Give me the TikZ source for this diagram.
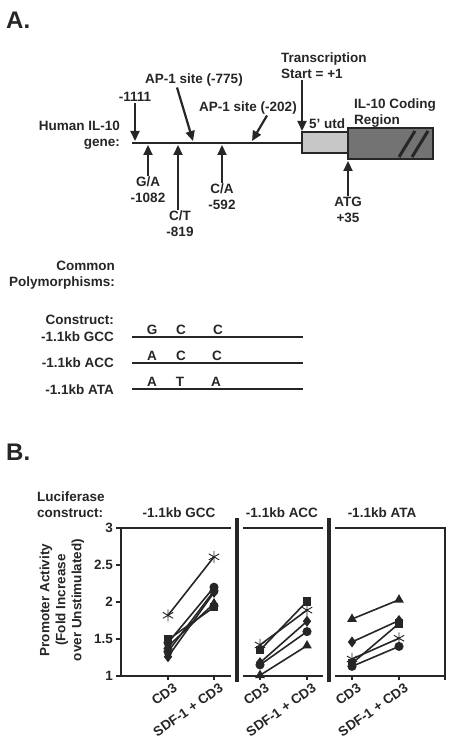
\documentclass[tikz,border=0pt]{standalone}
\usepackage{fontspec}
\setmainfont{Liberation Sans}
\usepackage{tikz}
\usetikzlibrary{arrows.meta, plotmarks}
\tikzset{>={Triangle[width=9pt,length=10pt]}}
\tikzset{
  txt/.style={font=\bfseries\fontsize{13.5}{16}\selectfont, text=black!85, inner sep=1pt},
  big/.style={font=\bfseries\fontsize{24}{26}\selectfont, text=black!85, inner sep=0pt},
  gene/.style={line width=2.6pt, black!85},
  tag/.style={->, line width=2.2pt, black!85},
  frame/.style={line width=1.5pt, black!85},
  divider/.style={line width=3.5pt, black!85},
  dataline/.style={line width=1.6pt, black!85, mark options={fill=black!85, solid}},
  xlab/.style={txt, rotate=35, anchor=north east}
}

\begin{document}
\begin{tikzpicture}[x=1pt, y=-1pt]
\useasboundingbox (0,0) rectangle (454,743);

% A. gene map
\node[big, anchor=west] (titA) at (6,20) {A.};
\node[txt, align=right, anchor=east] (hgene) at (121,135) {Human IL-10\\gene:};
\draw[gene] (132,143) coordinate (g0) -- (302,143) coordinate (g1);
\draw[black!85, line width=1.2pt, fill=black!22] (302,132) rectangle (348,153);
\draw[black!85, line width=1.2pt, fill=black!55] (348,128) rectangle (433,159);
\draw[line width=3pt, black!85] (399,157) -- (415,131);
\draw[line width=3pt, black!85] (412,157) -- (428,131);
\node[txt, anchor=west] (utr) at (308,124) {5' utd};
\node[txt, align=left, anchor=west] (cod) at (353,113) {IL-10 Coding\\Region};

% sites above the line
\node[txt] (l1111) at (135,97) {-1111};
\coordinate (p1111) at (135,141);
\draw[tag] (l1111) -- (p1111);
\node[txt] (lapa) at (194,80) {AP-1 site (-775)};
\coordinate (papa) at (193,141);
\draw[tag] ([xshift=-17pt]lapa.south) -- (papa);
\node[txt] (lapb) at (248,108) {AP-1 site (-202)};
\coordinate (papb) at (252,141);
\draw[tag] ([xshift=19pt]lapb.south) -- (papb);
\node[txt, align=left, anchor=west] (ltss) at (280,66) {Transcription\\Start = +1};
\coordinate (ptss) at (302,131);
\draw[tag] (ltss.south -| ptss) -- (ptss);

% polymorphisms below the line
\node[txt, align=center] (lga) at (148,190) {G/A\\-1082};
\coordinate (pga) at (148,145);
\draw[tag] (lga) -- (pga);
\node[txt, align=center] (lct) at (180,224) {C/T\\-819};
\coordinate (pct) at (178,145);
\draw[tag] (lct.north -| pct) -- (pct);
\node[txt, align=center] (lca) at (222,197) {C/A\\-592};
\coordinate (pca) at (222,145);
\draw[tag] (lca) -- (pca);
\node[txt, align=center] (latg) at (348,210) {ATG\\+35};
\coordinate (patg) at (348,161);
\draw[tag] (latg) -- (patg);

% constructs
\node[txt, align=right, anchor=east] (comm) at (116,275) {Common\\Polymorphisms:};
\node[txt, anchor=east] (cons) at (115,320) {Construct:};
\node[txt, anchor=east] (kgcc) at (115,337) {-1.1kb GCC};
\node[txt, anchor=east] (kacc) at (115,363) {-1.1kb ACC};
\node[txt, anchor=east] (kata) at (115,390) {-1.1kb ATA};
\draw[gene] (132,337) -- (303,337);
\draw[gene] (132,363) -- (303,363);
\draw[gene] (132,389) -- (303,389);
\node[txt] (ga1) at (152,330) {G};
\node[txt] (gc2) at (181,330) {C};
\node[txt] (gc3) at (218,330) {C};
\node[txt] (aa1) at (152,356) {A};
\node[txt] (ac2) at (181,356) {C};
\node[txt] (ac3) at (217,356) {C};
\node[txt] (ta1) at (152,382) {A};
\node[txt] (tt2) at (180,382) {T};
\node[txt] (ta3) at (216,382) {A};

% B. luciferase assay
\node[big, anchor=west] (titB) at (6,452) {B.};
\node[txt, align=left, anchor=west] (luc) at (36,505) {Luciferase\\construct:};
\node[txt] (hgcc) at (179,513) {-1.1kb GCC};
\node[txt] (hacc) at (282,513) {-1.1kb ACC};
\node[txt] (hata) at (382,513) {-1.1kb ATA};
\node[txt, align=center, rotate=90] (yax) at (62,600) {Promoter Activity\\(Fold Increase\\over Unstimulated)};

% frames
\draw[frame] (231,528) -- (121,528) -- (121,676) -- (231,676);
\draw[frame] (243,528) -- (323,528);
\draw[frame] (243,676) -- (323,676);
\draw[frame] (335,528) -- (445,528) -- (445,680);
\draw[frame] (335,676) -- (445,676);
\draw[divider] (237,518) -- (237,682);
\draw[divider] (329,518) -- (329,682);

% ticks
\draw[frame] (116,528) -- (121,528); \node[txt, anchor=east] (t30) at (114,528) {3};
\draw[frame] (116,565) -- (121,565); \node[txt, anchor=east] (t25) at (114,565) {2.5};
\draw[frame] (116,602) -- (121,602); \node[txt, anchor=east] (t20) at (114,602) {2};
\draw[frame] (116,639) -- (121,639); \node[txt, anchor=east] (t15) at (114,639) {1.5};
\draw[frame] (116,676) -- (121,676); \node[txt, anchor=east] (t10) at (114,676) {1};
\draw[frame] (168,676) -- (168,680);
\draw[frame] (214,676) -- (214,680);
\draw[frame] (260,676) -- (260,680);
\draw[frame] (307,676) -- (307,680);
\draw[frame] (352,676) -- (352,680);
\draw[frame] (399,676) -- (399,680);
\node[xlab] (xa1) at (173,681) {CD3};
\node[xlab] (xa2) at (219,681) {SDF-1 + CD3};
\node[xlab] (xb1) at (265,681) {CD3};
\node[xlab] (xb2) at (312,681) {SDF-1 + CD3};
\node[xlab] (xc1) at (357,681) {CD3};
\node[xlab] (xc2) at (404,681) {SDF-1 + CD3};

% data, fold increase
\begin{scope}[y=74pt, yshift=-750pt]
\draw[dataline] plot[mark=asterisk, mark size=6pt, mark options={line width=0.9pt}] coordinates {(168,1.82) (214,2.61)};
\draw[dataline] plot[mark=square*, mark size=3.5pt] coordinates {(168,1.49) (214,1.93)};
\draw[dataline] plot[mark=*, mark size=3.7pt] coordinates {(168,1.45) (214,2.20)};
\draw[dataline] plot[mark=triangle*, mark size=4pt] coordinates {(168,1.40) (214,1.98)};
\draw[dataline] plot[mark=*, mark size=3.7pt] coordinates {(168,1.33) (214,2.15)};
\draw[dataline] plot[mark=diamond*, mark size=4.2pt] coordinates {(168,1.26) (214,2.13)};

\draw[dataline] plot[mark=asterisk, mark size=6pt, mark options={line width=0.9pt}] coordinates {(260,1.42) (307,1.89)};
\draw[dataline] plot[mark=square*, mark size=3.5pt] coordinates {(260,1.35) (307,2.01)};
\draw[dataline] plot[mark=diamond*, mark size=4.2pt] coordinates {(260,1.18) (307,1.74)};
\draw[dataline] plot[mark=*, mark size=3.7pt] coordinates {(260,1.15) (307,1.60)};
\draw[dataline] plot[mark=triangle*, mark size=4pt] coordinates {(260,1.01) (307,1.41)};

\draw[dataline] plot[mark=triangle*, mark size=4pt] coordinates {(352,1.77) (399,2.03)};
\draw[dataline] plot[mark=diamond*, mark size=4.2pt] coordinates {(352,1.46) (399,1.75)};
\draw[dataline] plot[mark=asterisk, mark size=6pt, mark options={line width=0.9pt}] coordinates {(352,1.23) (399,1.51)};
\draw[dataline] plot[mark=square*, mark size=3.5pt] coordinates {(352,1.17) (399,1.71)};
\draw[dataline] plot[mark=*, mark size=3.7pt] coordinates {(352,1.13) (399,1.40)};
\end{scope}
\end{tikzpicture}
\end{document}
